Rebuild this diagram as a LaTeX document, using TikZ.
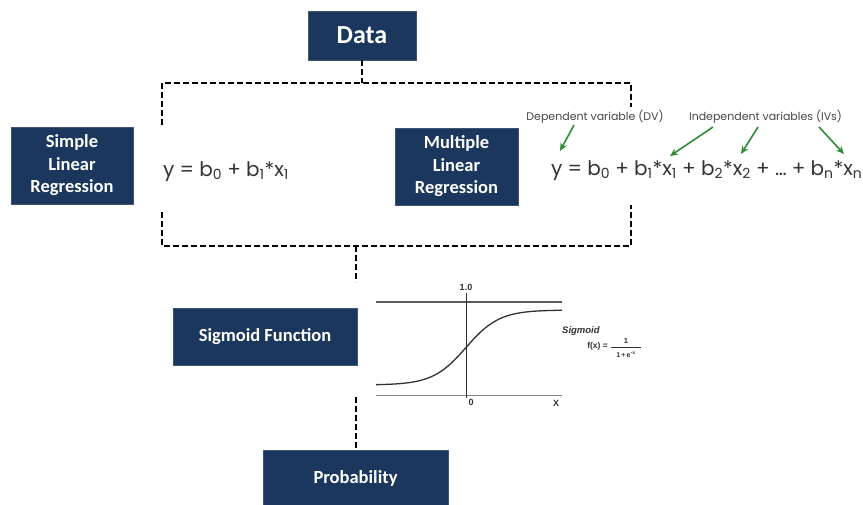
\documentclass[tikz,border=0pt]{standalone}
\usepackage{fontspec}
\setmainfont{Carlito}
\newfontfamily\eqfont{Poppins}
\newfontfamily\lblfont{Poppins}
\newfontfamily\arialfont{Liberation Sans}
\usetikzlibrary{arrows.meta}
\definecolor{navy}{RGB}{27,55,94}
\definecolor{arrowgreen}{RGB}{46,140,56}
\definecolor{labelgray}{RGB}{70,70,70}
\definecolor{plotgray}{RGB}{50,50,50}
\newcommand\eqgap{\hspace{5.2pt}}
\newcommand\eqsub[1]{\textsubscript{#1}}
\begin{document}
\begin{tikzpicture}[x=1pt,y=-1pt,
  box/.style={fill=navy, draw=navy!85!white, text=white, align=center, inner sep=0pt,
    font=\bfseries\fontsize{18.5}{22.5}\selectfont},
  dline/.style={draw=black, line width=2pt, dash pattern=on 6pt off 3pt},
  eq/.style={font=\eqfont\fontsize{20}{22}\selectfont, inner sep=0pt, text=black!80},
  lbl/.style={font=\lblfont\fontsize{11}{13}\selectfont, inner sep=0pt, text=labelgray},
  garrow/.style={draw=arrowgreen, line width=1.6pt, -{Stealth[length=8pt,width=7pt]}},
  plbl/.style={font=\arialfont\bfseries\fontsize{9}{10}\selectfont, inner sep=0pt, text=plotgray},
]
\useasboundingbox (0,0) rectangle (863,504);
\clip (0,0) rectangle (863,504);

% boxes
\node[box, minimum width=108pt, minimum height=49pt, font=\bfseries\fontsize{26}{30}\selectfont] (data) at (362,35.5) {Data};
\node[box, minimum width=122pt, minimum height=77pt] (slr) at (72,165.5) {Simple\\Linear\\Regression};
\node[box, minimum width=123pt, minimum height=77pt] (mlr) at (456.5,166.5) {Multiple\\Linear\\Regression};
\node[box, minimum width=184pt, minimum height=57pt] (sig) at (265,336.5) {Sigmoid Function};
\node[box, minimum width=185pt, minimum height=56pt] (prob) at (355.5,478) {Probability};

% top bracket
\coordinate (tl) at (162,83);
\coordinate (tr) at (631,83);
\coordinate (tlb) at (162,125);
\coordinate (trb) at (631,107);
\draw[dline] (data.south) -- (data.south |- tl);
\draw[dline] (tlb) -- (tl) -- (tr) -- (trb);

% bottom bracket
\coordinate (bl) at (162,212);
\coordinate (blb) at (162,246);
\coordinate (brb) at (631,246);
\coordinate (br) at (631,205);
\coordinate (bm) at (356,246);
\coordinate (bmend) at (356,282);
\draw[dline] (bl) -- (blb) -- (brb) -- (br);
\draw[dline] (bm) -- (bmend);

% sigmoid to probability
\coordinate (sp) at (356,397);
\draw[dline] (sp) -- (prob.north -| sp);

% equations
\node[eq, anchor=base west] (eq1) at (163,176.5)
  {y\eqgap=\eqgap b\eqsub{0}\eqgap+\eqgap b\eqsub{1}*x\eqsub{1}};
\node[eq, anchor=base west] (eq2) at (551,175.5)
  {y\eqgap=\eqgap b\eqsub{0}\eqgap+\eqgap b\eqsub{1}*x\eqsub{1}\eqgap+\eqgap b\eqsub{2}*x\eqsub{2}\eqgap+\eqgap…\eqgap+\eqgap b\eqsub{n}*x\eqsub{n}};

% labels
\node[lbl] (dv) at (595,117) {Dependent variable (DV)};
\node[lbl] (iv) at (765.5,117) {Independent variables (IVs)};

\coordinate (a1s) at (574,125); \coordinate (a1e) at (560,151);
\coordinate (a2s) at (713,127); \coordinate (a2e) at (670,156);
\coordinate (a3s) at (758,127); \coordinate (a3e) at (741,154);
\coordinate (a4s) at (819,127); \coordinate (a4e) at (844,154);
\draw[garrow] (a1s) -- (a1e);
\draw[garrow] (a2s) -- (a2e);
\draw[garrow] (a3s) -- (a3e);
\draw[garrow] (a4s) -- (a4e);

% sigmoid plot
\coordinate (topL) at (376,302); \coordinate (topR) at (562,302);
\coordinate (botL) at (376,395); \coordinate (botR) at (562,395);
\coordinate (vT) at (466,293); \coordinate (vB) at (466,398);
\draw[plotgray!80, line width=1.4pt] (topL) -- (topR);
\draw[plotgray!60, line width=1pt] (botL) -- (botR);
\draw[plotgray, line width=1pt] (vT) -- (vB);
\draw[plotgray, line width=1.3pt, domain=376:562, samples=80, smooth]
  plot ({\x},{385-75/(1+exp(-0.06*(\x-466)))});
\node[plbl] (one) at (466,287) {1.0};
\node[plbl] (zero) at (471,402.5) {0};
\node[plbl] (xl) at (556,403) {X};
\node[plbl, font=\arialfont\bfseries\itshape\fontsize{9.5}{11}\selectfont, anchor=west] (sname) at (562,331.5) {Sigmoid};
\node[plbl, font=\arialfont\bfseries\fontsize{8.5}{10}\selectfont, anchor=east] (fx) at (608,346) {f(x) =};
\node[plbl, font=\arialfont\bfseries\fontsize{7.5}{9}\selectfont] (num) at (626,340.5) {1};
\node[plbl, font=\arialfont\bfseries\fontsize{7}{9}\selectfont] (den) at (626,354.5) {1\,+\,e\textsuperscript{-x}};
\draw[plotgray, line width=0.7pt] (611,347.5) -- (641,347.5);
\end{tikzpicture}
\end{document}
